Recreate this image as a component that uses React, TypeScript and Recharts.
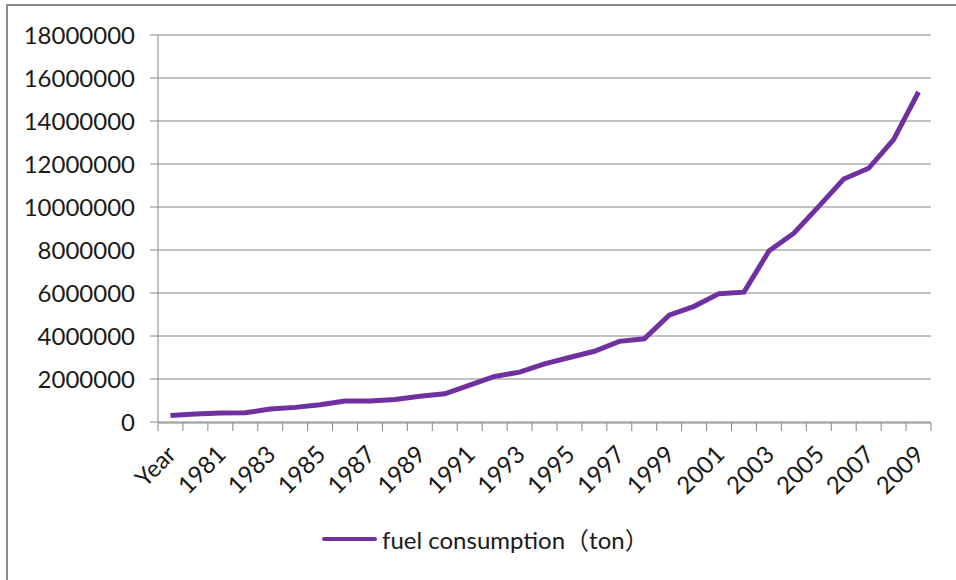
import { LineChart, Line, XAxis, YAxis, CartesianGrid, Legend } from "recharts";

const years = [
  "Year", "1980", "1981", "1982", "1983", "1984", "1985", "1986", "1987", "1988",
  "1989", "1990", "1991", "1992", "1993", "1994", "1995", "1996", "1997", "1998",
  "1999", "2000", "2001", "2002", "2003", "2004", "2005", "2006", "2007", "2008", "2009",
];

const fuel = [
  300000, 370000, 420000, 430000, 600000, 680000, 800000, 980000, 980000, 1050000,
  1200000, 1310000, 1720000, 2120000, 2320000, 2700000, 3000000, 3290000, 3750000, 3870000,
  4970000, 5380000, 5970000, 6040000, 7950000, 8780000, 10030000, 11300000, 11800000, 13130000,
  15350000,
];

const yTicks = [0, 2000000, 4000000, 6000000, 8000000, 10000000, 12000000, 14000000, 16000000, 18000000];

const seriesName = "fuel consumption（ton）";

const data = years.map((y, i) => ({ year: y, idx: i + 0.5, fuel: fuel[i] }));
// tick marks sit between categories, like Excel
const boundaries = Array.from({ length: years.length + 1 }, (_, i) => i);

const FONT = "Lato, 'Noto Sans CJK SC', sans-serif";
const PURPLE = "#7030A0";
const GRAY = "#868686";

const XTick = ({ x, y, payload }: any) => {
  const tx = x + 7;
  const ty = y + 34;
  return (
    <text
      x={tx}
      y={ty}
      transform={`rotate(-45 ${tx} ${ty})`}
      textAnchor="end"
      fontSize={24}
      fontFamily={FONT}
      fill="#1a1a1a"
    >
      {payload.value}
    </text>
  );
};

const LegendBox = () => (
  <div style={{ display: "flex", alignItems: "center", fontFamily: FONT, fontSize: 24, color: "#1a1a1a" }}>
    <div style={{ width: 55, height: 4, borderRadius: 2, background: PURPLE, marginRight: 5 }} />
    <span>{seriesName}</span>
  </div>
);

export default function App() {
  return (
    <div style={{ position: "fixed", left: 0, top: 0, width: 956, height: 580, background: "#fff", overflow: "hidden" }}>
      <div
        style={{
          position: "absolute",
          left: 6,
          top: 4,
          width: 1000,
          height: 620,
          border: "2px solid #8c8c8c",
        }}
      />
      <div style={{ position: "absolute", left: 0, top: 0 }}>
        <LineChart width={956} height={580} data={data} margin={{ top: 35, right: 25, bottom: 156, left: 0 }}>
          <CartesianGrid vertical={false} stroke={GRAY} strokeWidth={1} xAxisId="cat" />
          <XAxis
            xAxisId="marks"
            type="number"
            dataKey="idx"
            domain={[0, years.length]}
            allowDataOverflow
            ticks={boundaries}
            interval={0}
            height={1}
            tickSize={8}
            tickFormatter={() => ""}
            stroke={GRAY}
          />
          <XAxis
            xAxisId="cat"
            dataKey="year"
            scale="band"
            interval={1}
            height={1}
            axisLine={false}
            tickLine={false}
            tickSize={0}
            tickMargin={0}
            tick={<XTick />}
          />
          <YAxis
            width={158}
            domain={[0, 18000000]}
            allowDataOverflow
            ticks={yTicks}
            interval={0}
            tickSize={8}
            tickMargin={15}
            stroke={GRAY}
            tick={{ fill: "#1a1a1a", fontSize: 24, fontFamily: FONT }}
          />
          <Legend
            layout="horizontal"
            verticalAlign="middle"
            align="center"
            wrapperStyle={{ top: 521, left: 322, width: 440 }}
            content={() => <LegendBox />}
          />
          <Line
            xAxisId="cat"
            dataKey="fuel"
            name={seriesName}
            stroke={PURPLE}
            strokeWidth={5}
            dot={false}
            activeDot={false}
            isAnimationActive={false}
          />
        </LineChart>
      </div>
    </div>
  );
}
